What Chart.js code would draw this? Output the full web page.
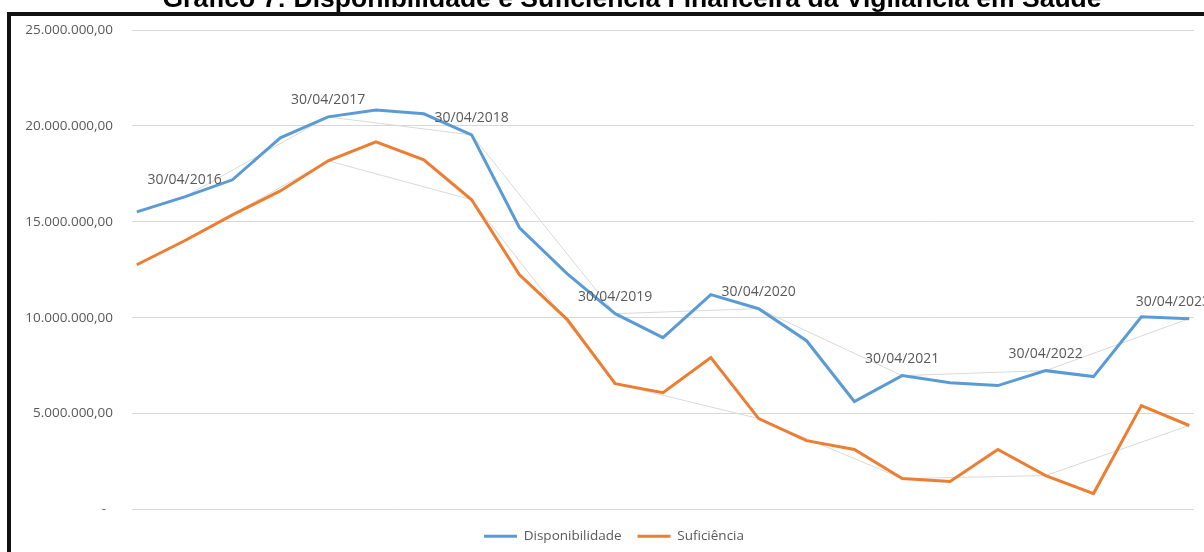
<!DOCTYPE html>
<html>
<head>
<meta charset="utf-8">
<script src="https://cdn.jsdelivr.net/npm/chart.js@4.4.1/dist/chart.umd.min.js"></script>
<style>
  html, body { margin: 0; padding: 0; background: #fff; overflow: hidden; }
  #wrap { position: relative; width: 1204px; height: 552px; overflow: hidden; }
  #grafico { position: absolute; left: 0; top: 0; }
  #moldura {
    position: absolute; left: 7px; top: 12px; width: 1300px; height: 700px;
    border: 4px solid #111; box-sizing: border-box; pointer-events: none;
  }
  #titulo {
    position: absolute; left: 632px; top: -15px; transform: translateX(-50%);
    font: bold 26.5px "Liberation Sans", Arial, sans-serif; line-height: 26.5px;
    white-space: nowrap; color: #000;
  }
</style>
</head>
<body>
<div id="wrap">
  <canvas id="grafico" width="1204" height="552"></canvas>
  <div id="moldura"></div>
  <div id="titulo">Gráfico 7: Disponibilidade e Suficiência Financeira da Vigilância em Saúde</div>
</div>
<script>
// datas de apuração (quadrimestres)
const categorias = [
  '31/12/2015', '30/04/2016', '31/08/2016', '31/12/2016',
  '30/04/2017', '31/08/2017', '31/12/2017', '30/04/2018',
  '31/08/2018', '31/12/2018', '30/04/2019', '31/08/2019',
  '31/12/2019', '30/04/2020', '31/08/2020', '31/12/2020',
  '30/04/2021', '31/08/2021', '31/12/2021', '30/04/2022',
  '31/08/2022', '31/12/2022', '30/04/2023'
];

const disponibilidade = [
  15520000, 16300000, 17190000, 19380000, 20470000, 20830000, 20630000, 19530000,
  14690000, 12290000, 10210000, 8960000, 11200000, 10470000, 8800000, 5630000,
  6980000, 6610000, 6460000, 7240000, 6930000, 10050000, 9950000
];

const suficiencia = [
  12760000, 14010000, 15360000, 16610000, 18180000, 19170000, 18230000, 16150000,
  12240000, 9900000, 6560000, 6090000, 7920000, 4740000, 3590000, 3130000,
  1610000, 1460000, 3130000, 1770000, 830000, 5420000, 4380000
];

// linhas cinzas ligando os valores de 30/04 de cada ano
const anualDisp = [
  null, 16300000, null, null, 20470000, null, null, 19530000,
  null, null, 10210000, null, null, 10470000, null, null,
  6980000, null, null, 7240000, null, null, 9950000
];

const anualSuf = [
  null, 14010000, null, null, 18180000, null, null, 16150000,
  null, null, 6560000, null, null, 4740000, null, null,
  1610000, null, null, 1770000, null, null, 4380000
];

const yTicks = [0, 5000000, 10000000, 15000000, 20000000, 25000000];

function formatBR(v) {
  if (v === 0) return '-  ';
  const s = Math.round(v).toString().replace(/\B(?=(\d{3})+(?!\d))/g, '.');
  return s + ',00';
}

const pontos = arr => arr.map((v, i) => ({x: i, y: v}));

// rótulos das datas acima dos pontos anuais
const rotulos = {
  id: 'rotulos',
  afterLayout(chart) {
    // deixa espaço para os rótulos do eixo y sem mexer na legenda
    chart.scales.y.left = 12;
  },
  afterDatasetsDraw(chart) {
    const meta = chart.getDatasetMeta(2);
    const ctx = chart.ctx;
    ctx.save();
    ctx.font = '14px "Open Sans"';
    ctx.fillStyle = '#595959';
    ctx.textAlign = 'center';
    ctx.textBaseline = 'middle';
    meta.data.forEach((pt, i) => {
      if (anualDisp[i] === null) return;
      const txt = categorias[i];
      const w = ctx.measureText(txt).width;
      const x = Math.min(pt.x, 1210 - w / 2);
      ctx.fillText(txt, x, pt.y - 17);
    });
    ctx.restore();
  }
};

new Chart(document.getElementById('grafico'), {
  type: 'line',
  data: {
    datasets: [
      {
        label: 'Disponibilidade',
        data: pontos(disponibilidade),
        borderColor: '#5B9BD5',
        backgroundColor: '#5B9BD5',
        borderWidth: 3,
        pointRadius: 0,
        tension: 0
      },
      {
        label: 'Suficiência',
        data: pontos(suficiencia),
        borderColor: '#ED7D31',
        backgroundColor: '#ED7D31',
        borderWidth: 3,
        pointRadius: 0,
        tension: 0
      },
      {
        label: 'anual1',
        data: pontos(anualDisp),
        borderColor: '#D9D9D9',
        borderWidth: 1,
        pointRadius: 0,
        spanGaps: true
      },
      {
        label: 'anual2',
        data: pontos(anualSuf),
        borderColor: '#D9D9D9',
        borderWidth: 1,
        pointRadius: 0,
        spanGaps: true
      }
    ]
  },
  options: {
    responsive: false,
    animation: false,
    layout: { padding: { left: 34, right: 10, top: 30, bottom: -1 } },
    scales: {
      x: {
        type: 'linear',
        min: -0.1,
        max: 22.1,
        grid: { display: false },
        border: { display: false },
        ticks: { display: false },
        afterFit: s => { s.height = 4; }
      },
      y: {
        min: 0,
        max: 25000000,
        grid: { color: '#D9D9D9', drawTicks: false },
        border: { display: false },
        afterBuildTicks: s => { s.ticks = yTicks.map(v => ({value: v})); },
        afterFit: s => { s.width = 98; },
        ticks: {
          padding: 19,
          color: '#595959',
          font: { family: 'Open Sans', size: 13.5 },
          callback: v => formatBR(v)
        }
      }
    },
    plugins: {
      legend: {
        position: 'bottom',
        labels: {
          boxWidth: 33,
          boxHeight: 3,
          padding: 16,
          color: '#595959',
          font: { family: 'Open Sans', size: 13.5 },
          filter: item => item.datasetIndex < 2,
          generateLabels: chart => {
            const base = Chart.defaults.plugins.legend.labels.generateLabels(chart);
            base.forEach(l => { l.lineWidth = 0; l.strokeStyle = l.fillStyle; });
            return base;
          }
        }
      },
      tooltip: { enabled: false }
    }
  },
  plugins: [rotulos]
});
</script>
</body>
</html>
